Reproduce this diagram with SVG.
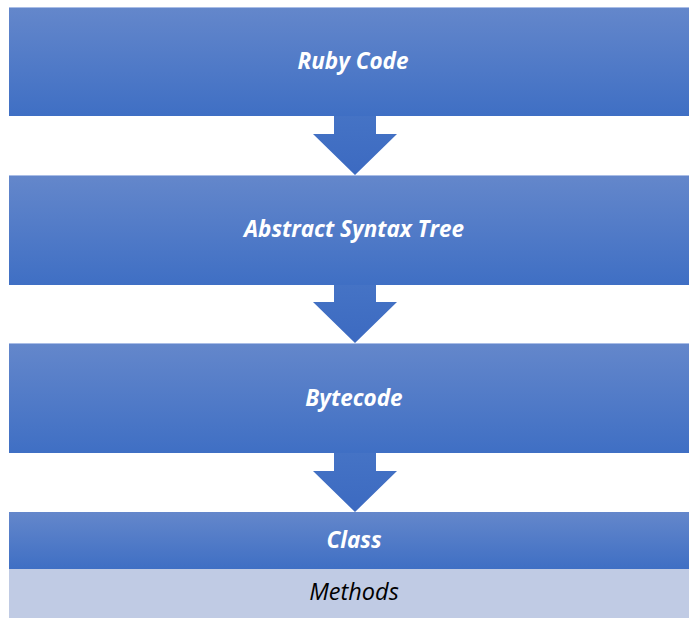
<svg xmlns="http://www.w3.org/2000/svg" width="689" height="618" viewBox="0 0 689 618">
  <defs>
    <linearGradient id="boxFill" x1="0" y1="0" x2="0" y2="1">
      <stop offset="0" stop-color="#6487CB"/>
      <stop offset="1" stop-color="#3F6FC4"/>
    </linearGradient>
    <linearGradient id="arrowFill" x1="0" y1="0" x2="0" y2="1">
      <stop offset="0" stop-color="#4573C5"/>
      <stop offset="1" stop-color="#3C6AC1"/>
    </linearGradient>
    <style>
      .box { fill: url(#boxFill); }
      .edge { stroke: #A9BDE6; stroke-width: 1; }
      .arrow { fill: url(#arrowFill); }
      .label { font-family: "Open Sans", "Liberation Sans", sans-serif; font-weight: bold; font-style: italic; font-size: 22.5px; fill: #FFFFFF; text-anchor: middle; }
      .sub { font-family: "Open Sans", "Liberation Sans", sans-serif; font-style: italic; font-size: 23.5px; fill: #000000; text-anchor: middle; }
    </style>
  </defs>

  <rect width="689" height="618" fill="#FFFFFF"/>

  <!-- down arrows between stages -->
  <g id="connectors">
    <polygon class="arrow" points="334,116 376,116 376,134 397,134 355,175 313,134 334,134"/>
    <polygon class="arrow" points="334,285 376,285 376,302 397,302 355,343 313,302 334,302"/>
    <polygon class="arrow" points="334,453 376,453 376,471 397,471 355,512 313,471 334,471"/>
  </g>

  <g id="ruby-code">
    <rect class="box" x="9" y="7" width="690" height="109"/>
    <line class="edge" x1="9" y1="7.5" x2="689" y2="7.5"/>
    <text class="label" x="353" y="69">Ruby Code</text>
  </g>

  <g id="abstract-syntax-tree">
    <rect class="box" x="9" y="175" width="690" height="110"/>
    <line class="edge" x1="9" y1="175.5" x2="689" y2="175.5"/>
    <text class="label" x="354" y="237">Abstract Syntax Tree</text>
  </g>

  <g id="bytecode">
    <rect class="box" x="9" y="343" width="690" height="110"/>
    <line class="edge" x1="9" y1="343.5" x2="689" y2="343.5"/>
    <text class="label" x="354" y="406">Bytecode</text>
  </g>

  <g id="class">
    <rect class="box" x="9" y="512" width="690" height="57"/>
    <text class="label" x="354" y="548">Class</text>
  </g>

  <g id="methods">
    <rect x="9" y="569" width="690" height="49" fill="#C0CBE4"/>
    <text class="sub" x="354" y="600">Methods</text>
  </g>
</svg>
